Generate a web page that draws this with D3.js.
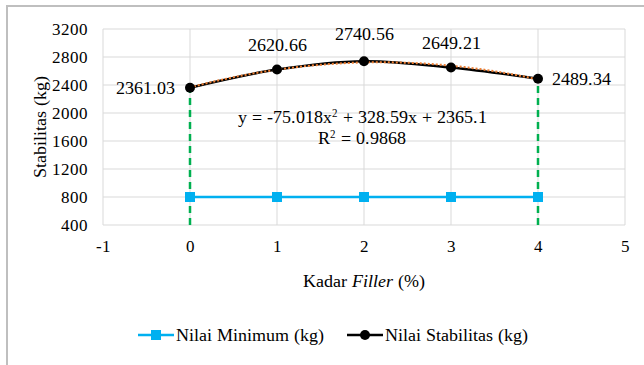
<!DOCTYPE html>
<html>
<head>
<meta charset="utf-8">
<script src="https://cdn.jsdelivr.net/npm/d3@7/dist/d3.min.js"></script>
<style>
  @font-face { font-family: "ChartSerif"; src: local("Liberation Serif"), local("LiberationSerif"); font-style: normal; }
  @font-face { font-family: "ChartSerif"; src: local("Liberation Serif Italic"), local("LiberationSerif-Italic"); font-style: italic; }
</style>
</head>
<body style="margin:0">
<svg id="chart" width="644" height="365"></svg>
<script>
// Filler content (%) and measured stability
const kadarFiller = [0, 1, 2, 3, 4];
const nilaiStabilitas = [2361.03, 2620.66, 2740.56, 2649.21, 2489.34];
const nilaiMinimum = [800, 800, 800, 800, 800];
const xTicks = [-1, 0, 1, 2, 3, 4, 5];
const yTicks = [400, 800, 1200, 1600, 2000, 2400, 2800, 3200];
// Polynomial trendline coefficients: y = a x^2 + b x + c
const trendCoef = [-75.018, 328.59, 2365.1];
const rSquared = 0.9868;

const FONT = '"ChartSerif", "Liberation Serif"';
const svg = d3.select("#chart").style("font-family", FONT);

// Helper: serif label
function label(parent, size) {
  return parent.append("text")
    .style("font-family", FONT)
    .style("font-size", size + "px")
    .attr("fill", "#000");
}

// Outer frame (left and top edges)
svg.append("path")
  .attr("d", "M7,365 L7,6 L644,6")
  .attr("fill", "none").attr("stroke", "#bfbfbf").attr("stroke-width", 2);

const x = d3.scaleLinear().domain([-1, 5]).range([103, 625]);
const y = d3.scaleLinear().domain([400, 3200]).range([225, 29]);

// Gridlines
svg.append("g").selectAll("line").data(yTicks).join("line")
  .attr("x1", x(-1)).attr("x2", x(5))
  .attr("y1", d => y(d)).attr("y2", d => y(d))
  .attr("stroke", "#d9d9d9").attr("stroke-width", 1);
svg.append("g").selectAll("line").data(xTicks).join("line")
  .attr("x1", d => x(d)).attr("x2", d => x(d))
  .attr("y1", y(400)).attr("y2", y(3200))
  .attr("stroke", "#d9d9d9").attr("stroke-width", 1);

// Axes (labels only; lines drawn as gridlines)
const yAxis = svg.append("g").attr("transform", `translate(${x(-1)},0)`)
  .call(d3.axisLeft(y).tickValues(yTicks).tickSize(0).tickPadding(15).tickFormat(d => String(d)))
  .attr("font-family", null).attr("font-size", null);
yAxis.select(".domain").remove();

const xAxis = svg.append("g").attr("transform", `translate(0,${y(400)})`)
  .call(d3.axisBottom(x).tickValues(xTicks).tickSize(0).tickPadding(15).tickFormat(d => String(d)))
  .attr("font-family", null).attr("font-size", null);
xAxis.select(".domain").remove();
svg.selectAll(".tick text")
  .style("font-family", FONT)
  .style("font-size", "17px").attr("fill", "#000");

// Axis titles
label(svg, 17.5)
  .attr("transform", `translate(46,${(y(400) + y(3200)) / 2}) rotate(-90)`)
  .attr("text-anchor", "middle")
  .text("Stabilitas (kg)");
const xt = label(svg, 17.5).attr("x", 364).attr("y", 287).attr("text-anchor", "middle");
xt.append("tspan").text("Kadar ");
xt.append("tspan").style("font-style", "italic").text("Filler");
xt.append("tspan").text(" (%)");

// Green dashed drop lines at the first and last points
[0, 4].forEach(i => {
  svg.append("line")
    .attr("x1", x(kadarFiller[i])).attr("x2", x(kadarFiller[i]))
    .attr("y1", y(400)).attr("y2", y(nilaiStabilitas[i]))
    .attr("stroke", "#00b050").attr("stroke-width", 2.5)
    .attr("stroke-dasharray", "7,5");
});

// Minimum requirement series
svg.append("path")
  .datum(kadarFiller.map((k, i) => [k, nilaiMinimum[i]]))
  .attr("d", d3.line().x(d => x(d[0])).y(d => y(d[1])))
  .attr("fill", "none").attr("stroke", "#00b0f0").attr("stroke-width", 2.5);
svg.append("g").selectAll("rect").data(kadarFiller).join("rect")
  .attr("x", d => x(d) - 5).attr("y", (d, i) => y(nilaiMinimum[i]) - 5)
  .attr("width", 10).attr("height", 10).attr("fill", "#00b0f0");

// Stability series (smoothed)
svg.append("path")
  .datum(kadarFiller.map((k, i) => [k, nilaiStabilitas[i]]))
  .attr("d", d3.line().curve(d3.curveCatmullRom.alpha(0.5)).x(d => x(d[0])).y(d => y(d[1])))
  .attr("fill", "none").attr("stroke", "#000").attr("stroke-width", 2.5);

// Polynomial trendline (dotted)
const trendPts = d3.range(0, 4.0001, 0.05).map(t => [t, trendCoef[0] * t * t + trendCoef[1] * t + trendCoef[2]]);
svg.append("path")
  .datum(trendPts)
  .attr("d", d3.line().x(d => x(d[0])).y(d => y(d[1])))
  .attr("fill", "none").attr("stroke", "#ed7d31").attr("stroke-width", 2)
  .attr("stroke-dasharray", "2,2");

svg.append("g").selectAll("circle").data(kadarFiller).join("circle")
  .attr("cx", d => x(d)).attr("cy", (d, i) => y(nilaiStabilitas[i]))
  .attr("r", 5).attr("fill", "#000");

// Data labels
const fmt = d3.format(".2f");
const labelPos = [
  { dx: -15, dy: 6, anchor: "end" },
  { dx: 0, dy: -19, anchor: "middle" },
  { dx: 0, dy: -21, anchor: "middle" },
  { dx: 0, dy: -19, anchor: "middle" },
  { dx: 14, dy: 6, anchor: "start" }
];
kadarFiller.forEach((k, i) => {
  label(svg, 18)
    .attr("x", x(k) + labelPos[i].dx)
    .attr("y", y(nilaiStabilitas[i]) + labelPos[i].dy)
    .attr("text-anchor", labelPos[i].anchor)
    .text(fmt(nilaiStabilitas[i]));
});

// Trendline equation
const eq = label(svg, 17.5).attr("x", 362).attr("y", 123).attr("text-anchor", "middle");
eq.append("tspan").text(`y = ${trendCoef[0]}x`);
eq.append("tspan").style("font-size", "11px").attr("dy", -6).text("2");
eq.append("tspan").attr("dy", 6).text(` + ${trendCoef[1]}x + ${trendCoef[2]}`);
const r2 = label(svg, 17.5).attr("x", 362).attr("y", 144).attr("text-anchor", "middle");
r2.append("tspan").text("R");
r2.append("tspan").style("font-size", "11px").attr("dy", -6).text("2");
r2.append("tspan").attr("dy", 6).text(` = ${rSquared}`);

// Legend
const legend = [
  { name: "Nilai Minimum (kg)", color: "#00b0f0", shape: "square", x0: 138 },
  { name: "Nilai Stabilitas (kg)", color: "#000", shape: "circle", x0: 347 }
];
legend.forEach(l => {
  const ly = 335;
  svg.append("line").attr("x1", l.x0).attr("x2", l.x0 + 36).attr("y1", ly).attr("y2", ly)
    .attr("stroke", l.color).attr("stroke-width", 2.5);
  if (l.shape === "square") {
    svg.append("rect").attr("x", l.x0 + 13).attr("y", ly - 5).attr("width", 10).attr("height", 10).attr("fill", l.color);
  } else {
    svg.append("circle").attr("cx", l.x0 + 18).attr("cy", ly).attr("r", 5).attr("fill", l.color);
  }
  label(svg, 17.5).attr("x", l.x0 + 38).attr("y", ly + 6).text(l.name);
});
</script>
</body>
</html>
